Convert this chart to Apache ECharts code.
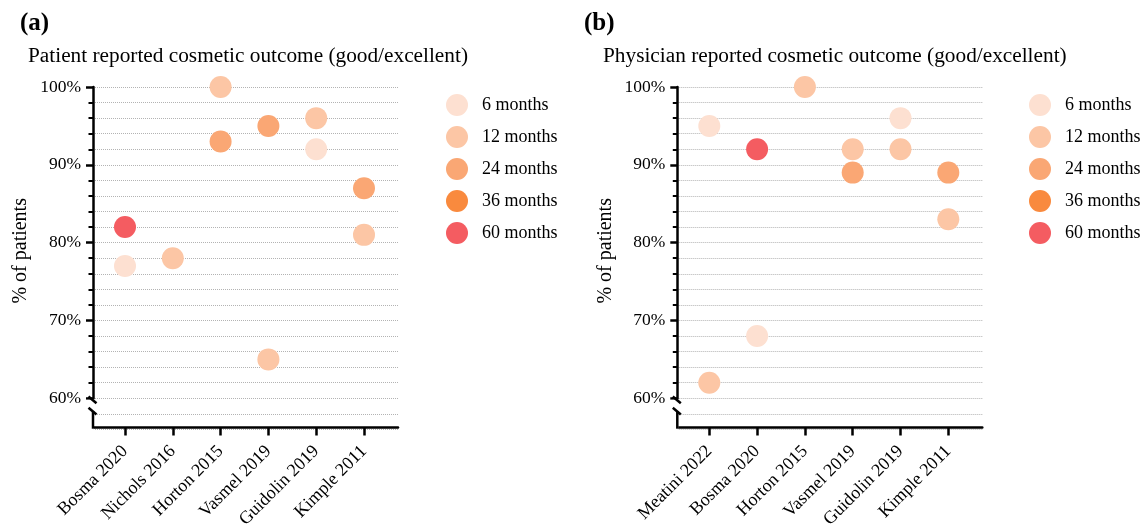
<!DOCTYPE html>
<html>
<head>
<meta charset="utf-8">
<script src="https://cdn.jsdelivr.net/npm/echarts@6/dist/echarts.min.js"></script>
<style>html,body{margin:0;padding:0;background:#fff}#c{width:1145px;height:526px}</style>
</head>
<body>
<div id="c"></div>
<script>
// ---- data ----
const seriesNames = ['6 months', '12 months', '24 months', '36 months', '60 months'];
const seriesColors = ['#FDE0D1', '#FCC6A5', '#FAA774', '#F98A3E', '#F45C61'];

const catsA = ['Bosma 2020', 'Nichols 2016', 'Horton 2015', 'Vasmel 2019', 'Guidolin 2019', 'Kimple 2011'];
const a6  = [77, null, null, null, 92, null];
const a12 = [null, 78, 100, 65, 96, 81];
const a24 = [null, null, 93, 95, null, 87];
const a36 = [null, null, null, null, null, null];
const a60 = [82, null, null, null, null, null];

const catsB = ['Meatini 2022', 'Bosma 2020', 'Horton 2015', 'Vasmel 2019', 'Guidolin 2019', 'Kimple 2011'];
const b6  = [95, 68, null, null, 96, null];
const b12 = [62, null, 100, 92, 92, 83];
const b24 = [null, null, null, 89, null, 89];
const b36 = [null, null, null, null, null, null];
const b60 = [null, 92, null, null, null, null];

// ---- layout ----
const FONT = "'Liberation Serif', 'Times New Roman', serif";
const TOP = 87, Y60 = 398.3, SCALE = (Y60 - TOP) / 40;   // px per %
const XAXIS_Y = 427.5;
const STEP = 47.8, FIRST = 32;  // first category offset from axis
const panels = [
  {ax: 93, cats: catsA, data: [a6, a12, a24, a36, a60], legendLeft: 446, title: '(a)', titleLeft: 20,
   sub: 'Patient reported cosmetic outcome (good/excellent)', subLeft: 28},
  {ax: 677.3, cats: catsB, data: [b6, b12, b24, b36, b60], legendLeft: 1029, title: '(b)', titleLeft: 584,
   sub: 'Physician reported cosmetic outcome (good/excellent)', subLeft: 603}
];

const grid = [], xAxis = [], yAxis = [], series = [], legend = [], title = [];
const BMIN = 56;
const hB = (100 - BMIN) * SCALE;
panels.forEach((p, i) => {
  const gA = i * 2, gB = i * 2 + 1;
  const leftA = p.ax + FIRST - STEP / 2;
  grid.push({left: leftA, top: TOP, width: STEP * p.cats.length, height: Y60 - TOP,
    containLabel: false, outerBoundsMode: 'none'});
  grid.push({left: p.ax, top: TOP, width: 305, height: hB,
    containLabel: false, outerBoundsMode: 'none'});
  xAxis.push({
    type: 'category', gridIndex: gA, data: p.cats, offset: XAXIS_Y - Y60,
    axisLine: {show: false},
    axisTick: {show: true, alignWithLabel: true, length: 8, lineStyle: {color: '#000', width: 2.5}},
    axisLabel: {rotate: 45, margin: 21, color: '#000', fontFamily: FONT, fontSize: 18, interval: 0},
    splitLine: {show: false}
  });
  xAxis.push({
    type: 'value', gridIndex: gB, min: 0, max: 1, offset: -((Y60 + (60 - BMIN) * SCALE) - XAXIS_Y),
    axisLine: {show: true, lineStyle: {color: '#000', width: 2.5}},
    axisTick: {show: false}, axisLabel: {show: false}, splitLine: {show: false}
  });
  yAxis.push({
    type: 'value', gridIndex: gA, min: 60, max: 100, interval: 10, offset: leftA - p.ax,
    axisLine: {show: true, lineStyle: {color: '#000', width: 2.5}},
    axisTick: {show: true, length: 7, lineStyle: {color: '#000', width: 2.5}},
    minorTick: {show: true, splitNumber: 5, length: 4.5, lineStyle: {color: '#000', width: 2}},
    axisLabel: {formatter: '{value}%', margin: 12, color: '#000', fontFamily: FONT, fontSize: 17.5},
    splitLine: {show: false}, minorSplitLine: {show: false}
  });
  yAxis.push({
    type: 'value', gridIndex: gB, min: BMIN, max: 100, interval: 2,
    axisLine: {show: false}, axisTick: {show: false}, axisLabel: {show: false},
    splitLine: {show: true, lineStyle: {color: '#b3b3b3', width: 1, type: [1, 1]}}
  });
  seriesNames.forEach((name, k) => {
    series.push({
      name: name, type: 'scatter', xAxisIndex: gA, yAxisIndex: gA,
      symbol: 'circle', symbolSize: 22, clip: false, z: 3,
      itemStyle: {color: seriesColors[k], opacity: 1},
      data: p.data[k].map(v => v == null ? '-' : v)
    });
  });
  legend.push({
    orient: 'vertical', left: p.legendLeft, top: 94, itemWidth: 40, itemHeight: 22, itemGap: 10,
    icon: 'circle', data: seriesNames, selectedMode: false, padding: 0,
    textStyle: {color: '#000', fontFamily: FONT, fontSize: 18}
  });
  title.push({text: p.title, left: p.titleLeft, top: 11, padding: 0,
    textStyle: {color: '#000', fontFamily: FONT, fontWeight: 'bold', fontSize: 25}});
  title.push({text: p.sub, left: p.subLeft, top: 46, padding: 0,
    textStyle: {color: '#000', fontFamily: FONT, fontWeight: 'normal', fontSize: 21.3}});
});

const chart = echarts.init(document.getElementById('c'), null, {renderer: 'canvas'});
chart.setOption({
  animation: false, backgroundColor: '#fff',
  title, grid, xAxis, yAxis, series, legend
});

// decorations: axis break and y-axis titles
const graphic = [];
panels.forEach((p, i) => {
  const y60 = chart.convertToPixel({yAxisIndex: i * 2}, 60);
  const ax = p.ax;
  const ls = {stroke: '#000', lineWidth: 2.5};
  graphic.push({type: 'rect', shape: {x: ax - 8, y: y60 + 1.5, width: 9, height: 30}, style: {fill: '#fff'}, z: 50});
  graphic.push({type: 'line', shape: {x1: ax - 4.5, y1: y60 - 1.8, x2: ax + 3.5, y2: y60 + 5}, style: ls, z: 60});
  graphic.push({type: 'line', shape: {x1: ax - 4.5, y1: y60 + 9.4, x2: ax + 3.5, y2: y60 + 16.2}, style: ls, z: 60});
  graphic.push({type: 'line', shape: {x1: ax, y1: y60 + 13, x2: ax, y2: XAXIS_Y + 1.2}, style: ls, z: 60});
  graphic.push({type: 'text', x: ax - 72, y: 250.8, rotation: Math.PI / 2,
    style: {text: '% of patients', fill: '#000', font: '20px ' + FONT, textAlign: 'center', textVerticalAlign: 'middle'}, z: 60});
});
chart.setOption({graphic});
</script>
</body>
</html>
